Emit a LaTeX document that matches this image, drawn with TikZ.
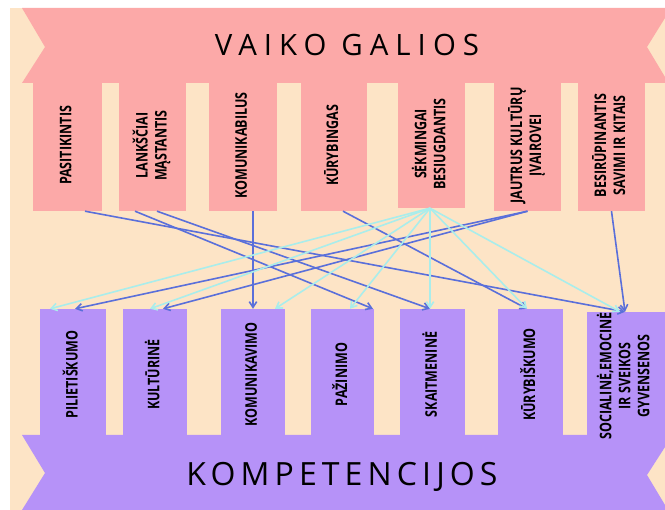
\documentclass[tikz,border=0pt]{standalone}
\usepackage{fontspec}
\setmainfont{Open Sans}
\newfontfamily\colfont[FakeStretch=0.78]{Open Sans}
\newfontfamily\titlefont{Open Sans}
\usetikzlibrary{calc,positioning}
\usetikzlibrary{arrows.meta}
\tikzset{>={Straight Barb[length=2mm,width=2.6mm]}}
\definecolor{peach}{HTML}{FDE4C6}
\definecolor{rosa}{HTML}{FCA9A8}
\definecolor{lila}{HTML}{B692F8}
\definecolor{arrblue}{HTML}{5A6FDA}
\definecolor{arrcyan}{HTML}{A9EDEB}
\newcommand{\vlab}[1]{\rotatebox{90}{\begin{tabular}{@{}c@{}}#1\end{tabular}}}

\begin{document}
\begin{tikzpicture}[x=1pt,y=-1pt]
          \tikzstyle{topcol} = [fill=rosa, inner sep=0pt, minimum height=131pt, font=\colfont\bfseries\fontsize{16}{19}\selectfont]
          \tikzstyle{botcol} = [fill=lila, inner sep=0pt, minimum height=131pt, font=\colfont\bfseries\fontsize{16}{19}\selectfont]
          \tikzstyle{blu} = [->, arrblue, line width=1.6pt]
          \tikzstyle{cya} = [->, arrcyan, line width=1.6pt]
          \fill[white] (0,0) rectangle (665,510);
          \useasboundingbox (0,0) rectangle (665,510);
          \fill[peach] (10,8) rectangle (665,510);

          % banners
          \fill[rosa] (22,8) -- (665,8) -- (665,18) -- (647,47) -- (665,77) -- (665,83)
                      -- (22,83) -- (45,47) -- cycle;
          \fill[lila] (22,435) -- (665,435) -- (665,447) -- (647,475) -- (665,505) -- (665,510)
                      -- (22,510) -- (45,473) -- cycle;
          \node[anchor=base, inner sep=0pt, font=\titlefont\addfontfeature{LetterSpace=24}\fontsize{29.4}{30}\selectfont] (galios) at (347,56) {VAIKO GALIOS};
          \node[anchor=base, inner sep=0pt, font=\titlefont\addfontfeature{LetterSpace=16}\fontsize{32}{34}\selectfont] (komp) at (342,486) {KOMPETENCIJOS};

          % top columns
          \node[topcol, minimum width=69pt] (pasit) at (67.5,145.5) {\vlab{PASITIKINTIS}};
          \node[topcol, minimum width=67pt] (lank) at (152.5,145.5) {\vlab{LANKŠČIAI\\MĄSTANTIS}};
          \node[topcol, minimum width=68pt] (komb) at (243,145.5) {\vlab{KOMUNIKABILUS}};
          \node[topcol, minimum width=66pt] (kuryb) at (334,145.5) {\vlab{KŪRYBINGAS}};
          \node[topcol, minimum width=67pt, minimum height=128pt] (sekm) at (431.5,144) {\vlab{SĖKMINGAI\\BESIUGDANTIS}};
          \node[topcol, minimum width=67pt] (jaut) at (527.5,145.5) {\vlab{JAUTRUS KULTŪRŲ\\ĮVAIROVEI}};
          \node[topcol, minimum width=67pt] (besir) at (611.5,145.5) {\vlab{BESIRŪPINANTIS\\SAVIMI IR KITAIS}};

          % bottom columns
          \node[botcol, minimum width=66pt] (pilie) at (73,374.5) {\vlab{PILIETIŠKUMO}};
          \node[botcol, minimum width=64pt] (kultu) at (155,374.5) {\vlab{KULTŪRINĖ}};
          \node[botcol, minimum width=64pt] (komv) at (253,374.5) {\vlab{KOMUNIKAVIMO}};
          \node[botcol, minimum width=63pt] (pazin) at (342.5,374.5) {\vlab{PAŽINIMO}};
          \node[botcol, minimum width=65pt] (skait) at (432.5,374.5) {\vlab{SKAITMENINĖ}};
          \node[botcol, minimum width=65pt] (kurbs) at (530.5,374.5) {\vlab{KŪRYBIŠKUMO}};
          \node[botcol, minimum width=78pt, minimum height=128pt] (socem) at (626,376) {\vlab{SOCIALINĖ,EMOCINĖ\\IR SVEIKOS\\GYVENSENOS}};

          % links
          \draw[blu] ([xshift=17.5pt]pasit.south) -- ([xshift=-1pt]socem.north);
          \draw[blu] ([xshift=-17.5pt]lank.south) -- ([xshift=30.5pt]pazin.north);
          \draw[blu] ([xshift=4.5pt]lank.south) -- ([xshift=-2.5pt]skait.north);
          \draw[blu] ([xshift=10pt]komb.south) -- (komv.north);
          \draw[blu] ([xshift=9pt]kuryb.south) -- ([xshift=-3.5pt]kurbs.north);
          \draw[blu] (jaut.south) -- ([xshift=2pt]pilie.north);
          \draw[blu] (jaut.south) -- ([xshift=8pt]kultu.north);
          \draw[blu] (besir.south) -- ([xshift=-1pt]socem.north);
          \foreach \t/\s in {pilie/-23, kultu/-5, komv/22, pazin/7.5, skait/-2.5, kurbs/-3.5, socem/-6}
            \draw[cya] ([xshift=-1.5pt]sekm.south) -- ([xshift=\s pt]\t.north);
        \end{tikzpicture}
\end{document}
